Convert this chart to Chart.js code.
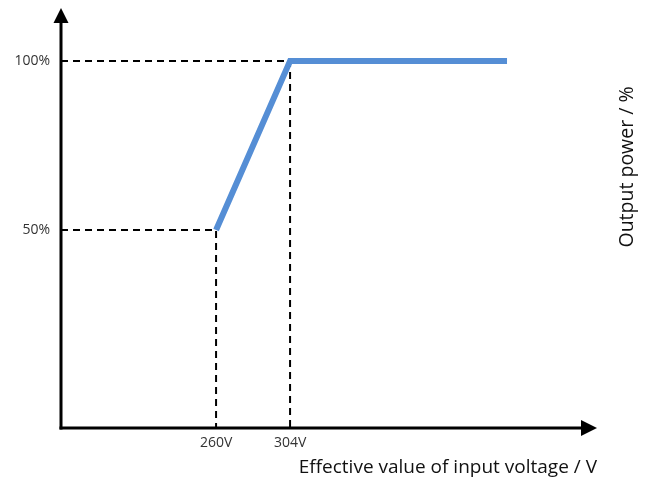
<!DOCTYPE html>
<html>
<head>
<meta charset="utf-8">
<script src="https://cdn.jsdelivr.net/npm/chart.js@4/dist/chart.umd.min.js"></script>
<style>
  html, body { margin: 0; padding: 0; background: #fff; }
  #wrap { width: 653px; height: 483px; }
</style>
</head>
<body>
<div id="wrap"><canvas id="mycanvas" width="653" height="483"></canvas></div>
<script>
// derating curve: output power vs input voltage
var voltage = [260, 304, 433];
var power = [50, 100, 100];
var xTicks = [260, 304];
var yTicks = [50, 100];
var xRange = [167.8, 486.5];
var yRange = [-8.6, 115.7];

var xTitle = 'Effective value of input voltage / V';
var yTitle = 'Output power / %';

// dashed helper lines from each knee to both axes
function guide(i) {
	return [
		{x: xRange[0], y: power[i]},
		{x: voltage[i], y: power[i]},
		{x: voltage[i], y: yRange[0]}
	];
}

var curve = [];
for (var i in voltage) {
	curve.push({x: voltage[i], y: power[i]});
}

var axesPlugin = {
	id: 'arrowAxes',
	afterDatasetsDraw: function(chart) {
		var ctx = chart.ctx;
		var a = chart.chartArea;
		ctx.save();
		ctx.strokeStyle = '#000';
		ctx.fillStyle = '#000';
		ctx.lineWidth = 3;
		// y axis
		ctx.beginPath();
		ctx.moveTo(a.left, a.bottom + 1.5);
		ctx.lineTo(a.left, a.top + 14);
		ctx.stroke();
		ctx.beginPath();
		ctx.moveTo(a.left, a.top);
		ctx.lineTo(a.left - 7.5, a.top + 15);
		ctx.lineTo(a.left + 7.5, a.top + 15);
		ctx.closePath();
		ctx.fill();
		// x axis
		ctx.beginPath();
		ctx.moveTo(a.left - 1.5, a.bottom);
		ctx.lineTo(a.right - 15, a.bottom);
		ctx.stroke();
		ctx.beginPath();
		ctx.moveTo(a.right, a.bottom);
		ctx.lineTo(a.right - 16, a.bottom - 8);
		ctx.lineTo(a.right - 16, a.bottom + 8);
		ctx.closePath();
		ctx.fill();
		ctx.restore();
	},
	afterDraw: function(chart) {
		var ctx = chart.ctx;
		ctx.save();
		ctx.translate(627, 167);
		ctx.rotate(-Math.PI / 2);
		ctx.font = '19.5px "Open Sans"';
		ctx.fillStyle = '#111';
		ctx.textAlign = 'center';
		ctx.textBaseline = 'middle';
		ctx.fillText(yTitle, 0, 0);
		ctx.restore();
	}
};

var dashStyle = {
	borderColor: '#000',
	borderWidth: 2,
	borderDash: [7, 5],
	pointRadius: 0,
	fill: false,
	tension: 0
};

var chartdata = {
	datasets: [
		{
			label: 'Output power',
			data: curve,
			borderColor: '#558ED5',
			backgroundColor: '#558ED5',
			borderWidth: 6,
			borderCapStyle: 'butt',
			borderJoinStyle: 'miter',
			pointRadius: 0,
			fill: false,
			tension: 0
		},
		Object.assign({label: 'g100', data: guide(1)}, dashStyle),
		Object.assign({label: 'g50', data: guide(0)}, dashStyle)
	]
};

var ctx = document.getElementById('mycanvas');

var lineGraph = new Chart(ctx, {
	type: 'line',
	data: chartdata,
	plugins: [axesPlugin],
	options: {
		responsive: false,
		maintainAspectRatio: false,
		animation: false,
		devicePixelRatio: 1,
		layout: {padding: {top: 8, right: 56, bottom: 0, left: 0}},
		plugins: {
			legend: {display: false},
			tooltip: {enabled: false}
		},
		scales: {
			x: {
				type: 'linear',
				min: xRange[0],
				max: xRange[1],
				grid: {display: false, drawTicks: false},
				border: {display: false},
				afterBuildTicks: function(s) {
					s.ticks = xTicks.map(function(v) { return {value: v}; });
				},
				afterFit: function(s) {
					s.height = 55;
					s.paddingLeft = 0;
					s.paddingRight = 0;
				},
				ticks: {
					padding: 7,
					color: '#333',
					font: {family: '"Open Sans"', size: 14},
					maxRotation: 0,
					autoSkip: false,
					callback: function(v) { return v + 'V'; }
				},
				title: {
					display: true,
					text: xTitle,
					align: 'end',
					color: '#111',
					font: {family: '"Open Sans"', size: 19},
					padding: {top: 0, bottom: 4}
				}
			},
			y: {
				type: 'linear',
				min: yRange[0],
				max: yRange[1],
				grid: {display: false, drawTicks: false},
				border: {display: false},
				afterBuildTicks: function(s) {
					s.ticks = yTicks.map(function(v) { return {value: v}; });
				},
				afterFit: function(s) {
					s.width = 61;
					s.paddingTop = 0;
					s.paddingBottom = 0;
				},
				ticks: {
					padding: 11,
					color: '#333',
					font: {family: '"Open Sans"', size: 14},
					autoSkip: false,
					callback: function(v) { return v + '%'; }
				}
			}
		}
	}
});
</script>
</body>
</html>
